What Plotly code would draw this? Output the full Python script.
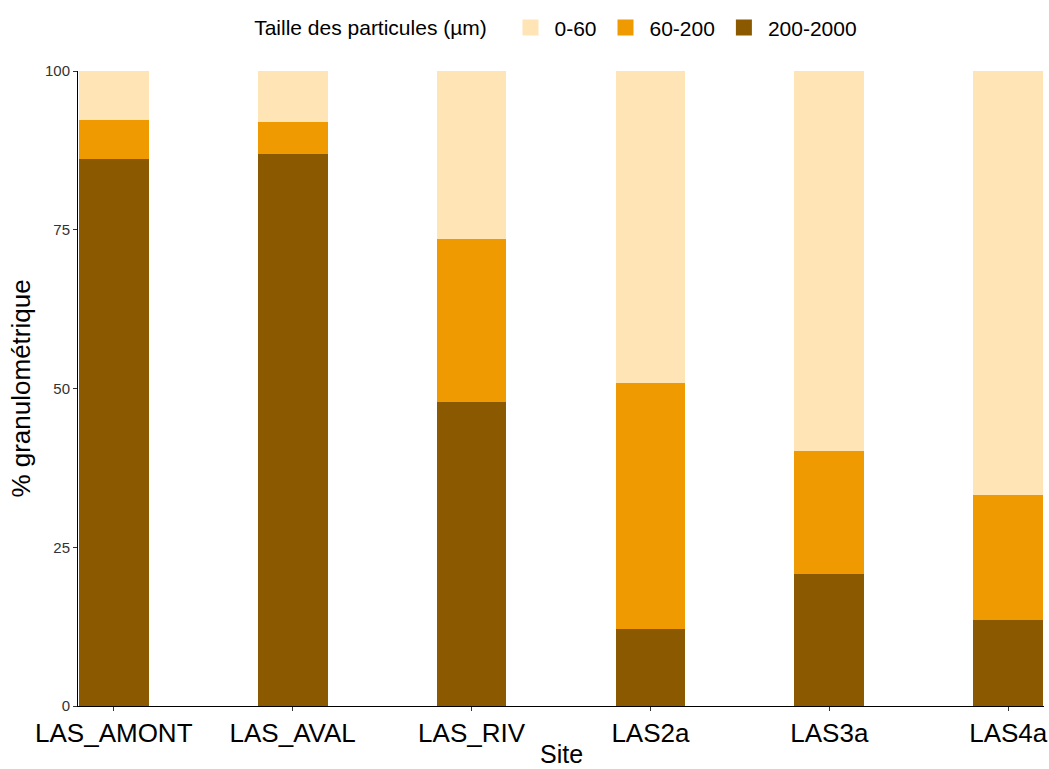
import plotly.graph_objects as go

sites = ["LAS_AMONT", "LAS_AVAL", "LAS_RIV", "LAS2a", "LAS3a", "LAS4a"]
coarse_200_2000 = [86.1, 87.0, 47.9, 12.1, 20.8, 13.5]
medium_60_200 = [6.2, 4.9, 25.7, 38.7, 19.4, 19.7]
fine_0_60 = [7.7, 8.1, 26.4, 49.2, 59.8, 66.8]

series = [
    ("200-2000", coarse_200_2000, "#8B5A00"),
    ("60-200", medium_60_200, "#EE9A00"),
    ("0-60", fine_0_60, "#FFE4B5"),
]

fig = go.Figure()
for name, vals, col in series:
    fig.add_trace(go.Bar(x=sites, y=vals, name=name, marker_color=col,
                         marker_line_width=0, width=0.39, legendgroup=name,
                         showlegend=False))
# legend keys (larger square swatches)
for name, vals, col in series:
    fig.add_trace(go.Scatter(x=[None], y=[None], mode="markers", name=name,
                             legendgroup=name,
                             marker=dict(symbol="square", size=22, color=col)))

font = "Liberation Sans, Arial, sans-serif"
fig.update_layout(
    barmode="stack",
    width=1049, height=769,
    margin=dict(l=78, r=5, t=71, b=63, autoexpand=False),
    plot_bgcolor="white", paper_bgcolor="white",
    font=dict(family=font, color="black"),
    legend=dict(orientation="h", traceorder="reversed", itemsizing="trace",
                x=0.496, xanchor="center", y=1.068, yanchor="middle",
                title=dict(text="Taille des particules (µm)  ", side="left",
                           font=dict(size=21, family=font)),
                font=dict(size=21, family=font), itemwidth=38),
    xaxis=dict(range=[-0.2, 5.2], showline=True, linecolor="black", linewidth=1,
               ticks="outside", ticklen=4, tickcolor="#333333",
               tickfont=dict(size=26, family=font, color="black"),
               showgrid=False, zeroline=False),
    yaxis=dict(range=[0, 100], tickvals=[0, 25, 50, 75, 100],
               showline=True, linecolor="black", linewidth=1,
               ticks="outside", ticklen=4, tickcolor="#333333",
               tickfont=dict(size=15, family=font, color="#333333"),
               title=dict(text="% granulométrique", font=dict(size=26, family=font), standoff=6),
               showgrid=False, zeroline=False),
    annotations=[dict(text="Site", xref="paper", yref="paper", x=0.5, y=-0.0985,
                      xanchor="center", yanchor="bottom", showarrow=False,
                      borderpad=0,
                      font=dict(size=25, family=font, color="black"))],
)

fig.write_html(
    "out.html",
    config={"displayModeBar": False},
    post_script="document.body.style.margin='0';document.body.style.overflow='hidden';",
)
